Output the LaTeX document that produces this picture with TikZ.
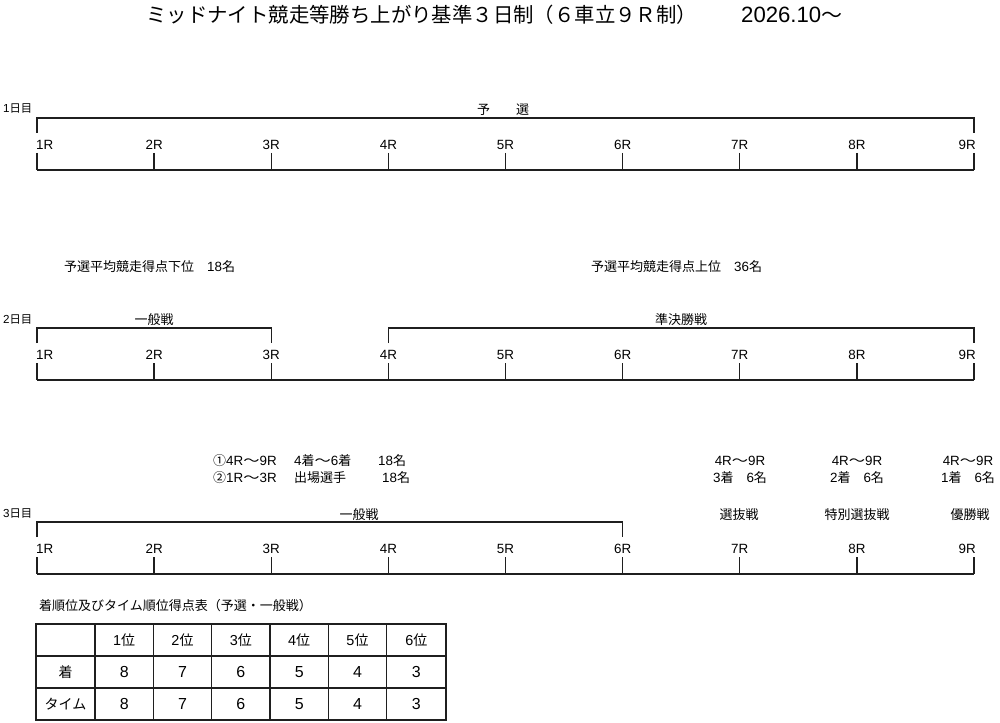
\documentclass[tikz,border=0pt]{standalone}
\usepackage{fontspec}
\usepackage{graphicx}
\setmainfont{Noto Sans CJK JP}
\newfontfamily\latf{Liberation Sans}[Scale=1.03]
\newcommand{\la}[1]{{\latf #1}}
\newcommand{\lb}[1]{{\fontsize{15.5}{17}\latf #1}}
\newcommand{\wv}{\scalebox{1.25}[1]{～}}
\begin{document}
\begin{tikzpicture}[x=1pt,y=-1pt,
  ln/.style={line width=1.3pt, draw=black!88},
  tx/.style={inner sep=0pt, font=\fontsize{13}{15}\selectfont},
  rl/.style={inner sep=0pt, font=\fontsize{13}{15}\selectfont\latf},
  dl/.style={inner sep=0pt, anchor=west, font=\fontsize{11.3}{13}\selectfont},
  tb/.style={inner sep=0pt, font=\fontsize{14}{16}\selectfont}]
\useasboundingbox (0,0) rectangle (1000,722);
\fill[white] (0,0) rectangle (1000,722);

% title
\node[inner sep=0pt, anchor=west, font=\fontsize{20.4}{24}\selectfont] (title) at (146,15)
  {ミッドナイト競走等勝ち上がり基準３日制（６車立９Ｒ制）};
\node[inner sep=0pt, anchor=west, font=\fontsize{20}{24}\selectfont] (date) at (741,15)
  {{\fontsize{21.5}{24}\selectfont\latf 2026.10}\scalebox{1.05}[1]{～}};

% days: ticks, bottom lines, race labels
\foreach \d/\Y in {1/118, 2/328, 3/522} {
  \foreach \i in {1,...,9} {
    \pgfmathsetmacro\xx{37+(\i-1)*117.125}
    \coordinate (d\d t\i) at (\xx,\Y+35);
    \coordinate (d\d b\i) at (\xx,\Y+52);
    \draw[ln] (d\d t\i) -- (d\d b\i);
  }
  \draw[ln] (d\d b1) -- (d\d b9);
  \foreach \i in {2,...,8} {
    \pgfmathsetmacro\xx{37+(\i-1)*117.125}
    \node[rl] (d\d l\i) at (\xx,\Y+27) {\i R};
  }
  \node[rl, anchor=west] (d\d l1) at (36,\Y+27) {1R};
  \node[rl, anchor=east] (d\d l9) at (976,\Y+27) {9R};
}

% day 1
\node[dl] (day1) at (3,109) {\la{1}日目};
\coordinate (b1L) at (37,118);
\coordinate (b1R) at (974,118);
\draw[ln] ([yshift=-15pt]b1L) -- (b1L) -- (b1R) -- ([yshift=-15pt]b1R);
\node[tx] (yosen) at (503,110) {予　　選};

% day 2
\node[tx, anchor=west] (low) at (64,267) {予選平均競走得点下位　\la{18}名};
\node[tx, anchor=west] (high) at (591,267) {予選平均競走得点上位　\la{36}名};
\node[dl] (day2) at (3,320) {\la{2}日目};
\coordinate (b2aL) at (37,328);
\coordinate (b2aR) at (271.25,328);
\coordinate (b2bL) at (388.375,328);
\coordinate (b2bR) at (974,328);
\draw[ln] ([yshift=-15pt]b2aL) -- (b2aL) -- (b2aR) -- ([yshift=-15pt]b2aR);
\draw[ln] ([yshift=-15pt]b2bL) -- (b2bL) -- (b2bR) -- ([yshift=-15pt]b2bR);
\node[tx] (ippan2) at (154,320) {一般戦};
\node[tx] (junkes) at (681,320) {準決勝戦};

% day 3
\node[tx, anchor=west] (q1a) at (213,461) {①\la{4R}\wv\la{9R}};
\node[tx, anchor=west] (q1b) at (294,461) {\la{4}着\wv\la{6}着};
\node[tx, anchor=west] (q1c) at (378,461) {\la{18}名};
\node[tx, anchor=west] (q2a) at (213,478) {②\la{1R}\wv\la{3R}};
\node[tx, anchor=west] (q2b) at (294,478) {出場選手};
\node[tx, anchor=west] (q2c) at (382,478) {\la{18}名};

\node[tx] (c7a) at (740,461) {\la{4R}\wv\la{9R}};
\node[tx] (c7b) at (740,478) {\la{3}着　\la{6}名};
\node[tx] (c8a) at (857,461) {\la{4R}\wv\la{9R}};
\node[tx] (c8b) at (857,478) {\la{2}着　\la{6}名};
\node[tx] (c9a) at (968,461) {\la{4R}\wv\la{9R}};
\node[tx] (c9b) at (968,478) {\la{1}着　\la{6}名};

\node[dl] (day3) at (3,514) {\la{3}日目};
\coordinate (b3L) at (37,522);
\coordinate (b3R) at (622.625,522);
\draw[ln] ([yshift=-15pt]b3L) -- (b3L) -- (b3R) -- ([yshift=-15pt]b3R);
\node[tx] (ippan3) at (359,515) {一般戦};
\node[tx] (senbatsu) at (739,515) {選抜戦};
\node[tx] (tokubetsu) at (857,515) {特別選抜戦};
\node[tx] (yusho) at (970,515) {優勝戦};

% table
\node[tx, anchor=west] (ttitle) at (39,606) {着順位及びタイム順位得点表（予選・一般戦）};
\coordinate (tTL) at (36,624);
\coordinate (tBR) at (446,720);
\draw[ln, line width=1.2pt] (tTL) rectangle (tBR);
\foreach \x in {95,153.3,211.6,270,328.3,386.7} {
  \draw[ln, line width=1.2pt] (\x,624) -- (\x,720);
}
\foreach \y in {656,688} {
  \draw[ln, line width=1.2pt] (36,\y) -- (446,\y);
}
\node[tb] (rh1) at (65.5,672) {着};
\node[tb] (rh2) at (65.5,704) {タイム};
\foreach \i/\cx/\v in {1/124.2/8, 2/182.5/7, 3/240.8/6, 4/299.2/5, 5/357.5/4, 6/416.3/3} {
  \node[tb] (h\i) at (\cx,640) {\la{\i}位};
  \node[tb] (a\i) at (\cx,672) {\lb{\v}};
  \node[tb] (b\i) at (\cx,704) {\lb{\v}};
}
\end{tikzpicture}
\end{document}
